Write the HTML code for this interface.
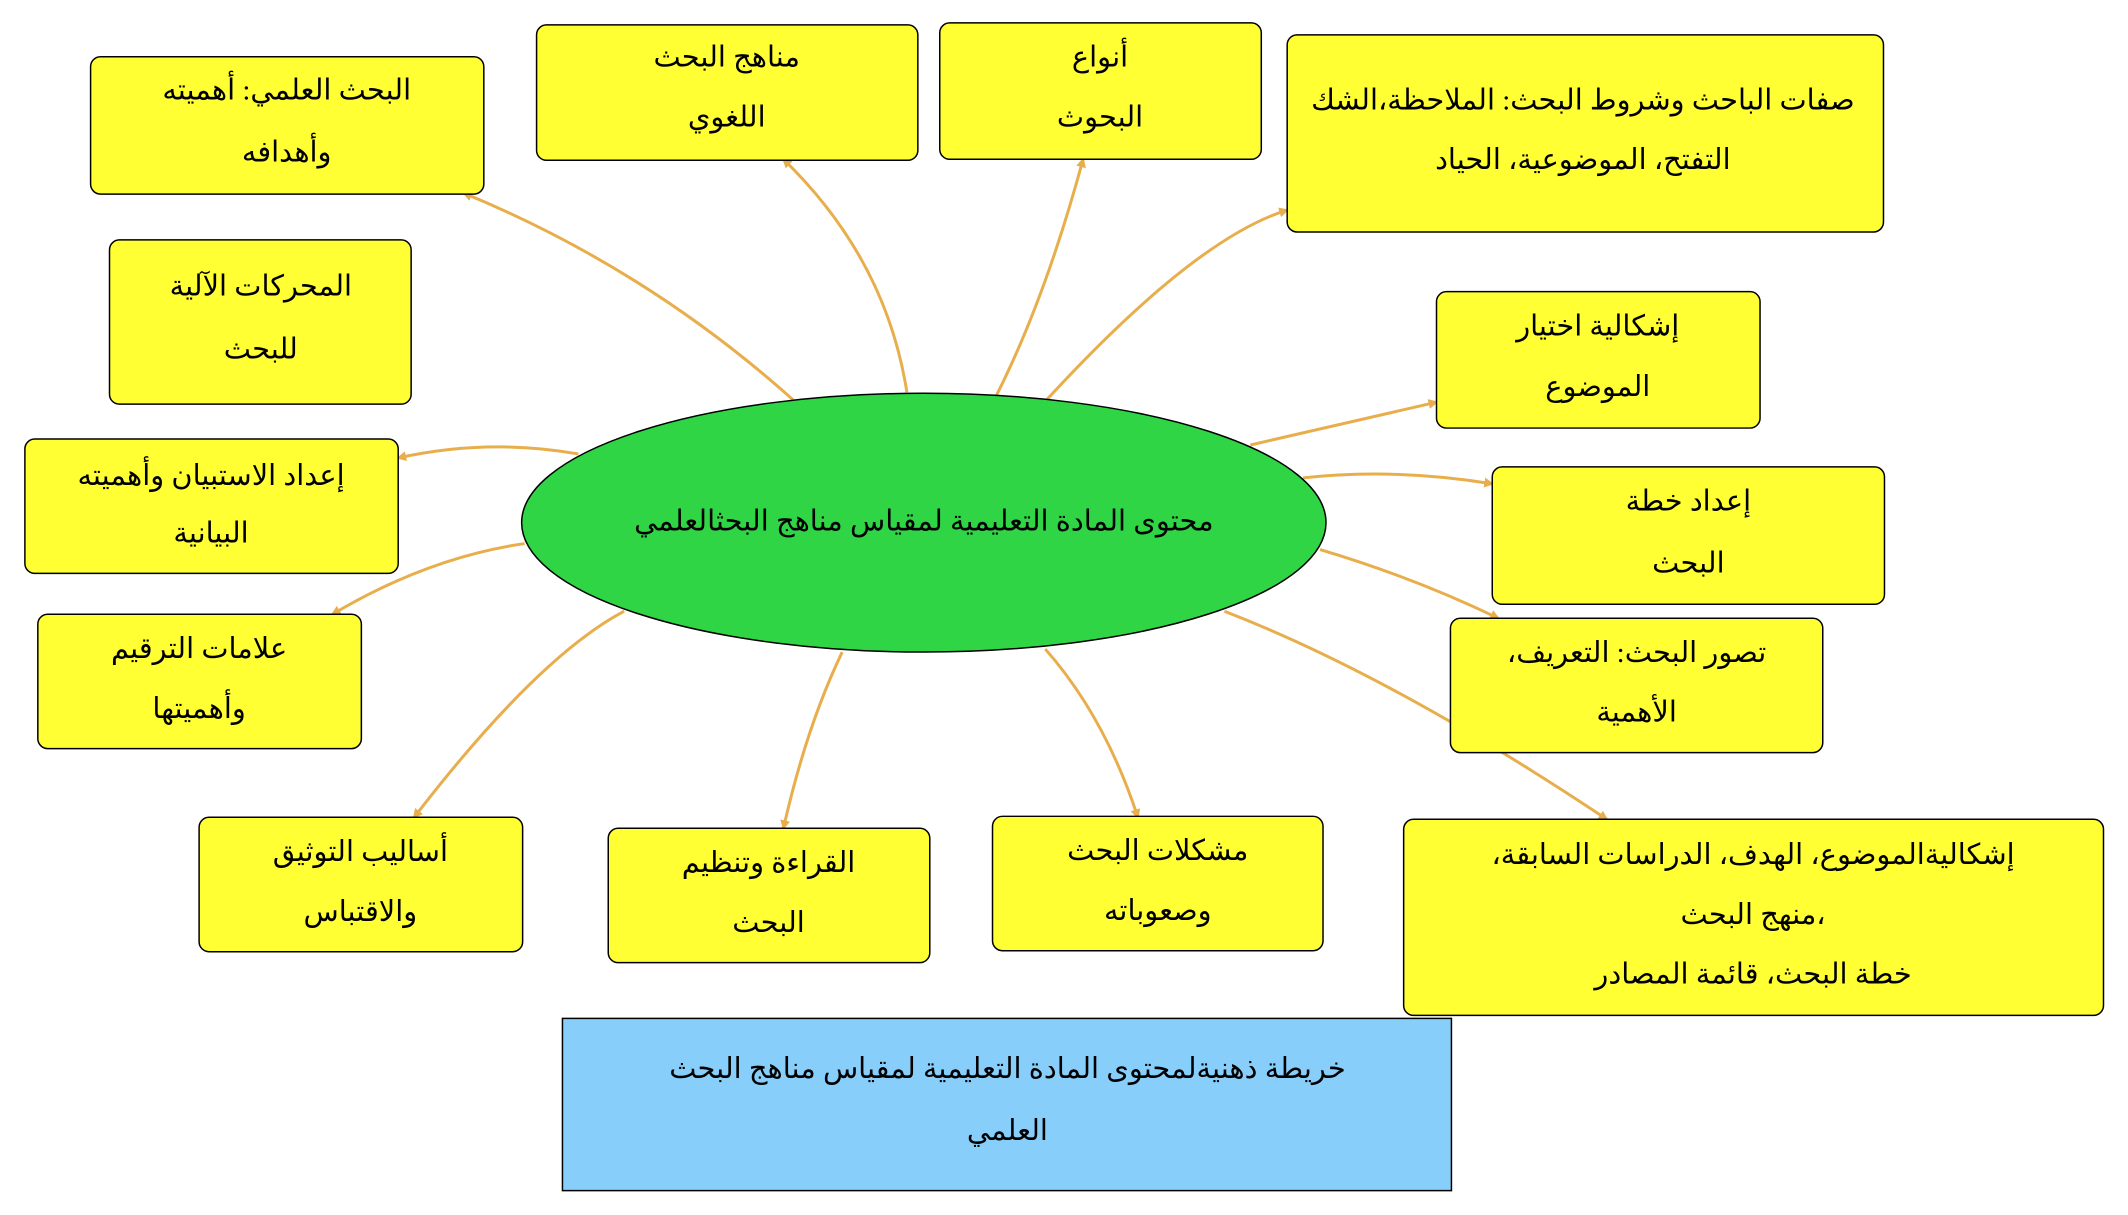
<!DOCTYPE html>
<html><head><meta charset="utf-8">
<style>
html,body{margin:0;padding:0;background:#fff;}
svg{display:block;}
text{font-family:"Liberation Serif","DejaVu Sans",serif;font-size:29px;fill:#000;direction:rtl;}
</style></head>
<body>
<svg width="2128" height="1215" viewBox="0 0 2128 1215" xmlns="http://www.w3.org/2000/svg">
<defs>
<marker id="a" markerWidth="10" markerHeight="10" refX="8" refY="5" orient="auto" markerUnits="userSpaceOnUse">
<path d="M0,0 L10,5 L0,10 z" fill="#e8ae4c"/>
</marker>
</defs>
<g transform="scale(0.9955)">
<g fill="none" stroke="#e8ae4c" stroke-width="3" marker-end="url(#a)">
<path d="M797,402 Q650,270 466,194"/>
<path d="M911,394 Q890,260 787,160"/>
<path d="M1001,397 Q1050,300 1088,160"/>
<path d="M1052,401 Q1200,240 1293,211"/>
<path d="M1256,447 L1443,404"/>
<path d="M1309,480 Q1400,470 1499,486"/>
<path d="M1326,552 Q1420,580 1505,621"/>
<path d="M1230,614 Q1400,680 1614,823"/>
<path d="M1050,652 Q1110,720 1143,821"/>
<path d="M846,655 Q810,730 787,832"/>
<path d="M627,614 Q540,660 416,821"/>
<path d="M527,546 Q430,560 334,617"/>
<path d="M581,456 Q490,440 400,460"/>
</g>
<ellipse cx="928" cy="525" rx="404" ry="130" fill="#2fd545" stroke="#000" stroke-width="1.5"/>
<text x="928" y="533" text-anchor="middle">محتوى المادة التعليمية لمقياس مناهج البحثالعلمي</text>
<g fill="#ffff33" stroke="#000" stroke-width="1.5">
<rect x="91" y="57" width="395" height="138" rx="10"/>
<rect x="539" y="25" width="383" height="136" rx="10"/>
<rect x="944" y="23" width="323" height="137" rx="10"/>
<rect x="1293" y="35" width="599" height="198" rx="10"/>
<rect x="110" y="241" width="303" height="165" rx="10"/>
<rect x="1443" y="293" width="325" height="137" rx="10"/>
<rect x="25" y="441" width="375" height="135" rx="10"/>
<rect x="1499" y="469" width="394" height="138" rx="10"/>
<rect x="38" y="617" width="325" height="135" rx="10"/>
<rect x="1457" y="621" width="374" height="135" rx="10"/>
<rect x="200" y="821" width="325" height="135" rx="10"/>
<rect x="611" y="832" width="323" height="135" rx="10"/>
<rect x="997" y="820" width="332" height="135" rx="10"/>
<rect x="1410" y="823" width="703" height="197" rx="10"/>
</g>
<rect x="565" y="1023" width="893" height="173" fill="#87cefa" stroke="#000" stroke-width="1.5"/>
<g text-anchor="middle">
<text x="288" y="100">البحث العلمي: أهميته</text><text x="288" y="162">وأهدافه</text>
<text x="730" y="67">مناهج البحث</text><text x="730" y="127">اللغوي</text>
<text x="1105" y="67">أنواع</text><text x="1105" y="127">البحوث</text>
<text x="1590" y="110">صفات الباحث وشروط البحث: الملاحظة،الشك</text><text x="1590" y="170">التفتح، الموضوعية، الحياد</text>
<text x="262" y="297">المحركات الآلية</text><text x="262" y="360">للبحث</text>
<text x="1605" y="337">إشكالية اختيار</text><text x="1605" y="398">الموضوع</text>
<text x="212" y="487">إعداد الاستبيان وأهميته</text><text x="212" y="545">البيانية</text>
<text x="1696" y="513">إعداد خطة</text><text x="1696" y="575">البحث</text>
<text x="200" y="661">علامات الترقيم</text><text x="200" y="721">وأهميتها</text>
<text x="1644" y="665">تصور البحث: التعريف،</text><text x="1644" y="725">الأهمية</text>
<text x="362" y="865">أساليب التوثيق</text><text x="362" y="925">والاقتباس</text>
<text x="772" y="876">القراءة وتنظيم</text><text x="772" y="936">البحث</text>
<text x="1163" y="864">مشكلات البحث</text><text x="1163" y="924">وصعوباته</text>
<text x="1761" y="868">إشكاليةالموضوع، الهدف، الدراسات السابقة،</text><text x="1761" y="928">،منهج البحث</text><text x="1761" y="988">خطة البحث، قائمة المصادر</text>
<text x="1012" y="1083">خريطة ذهنيةلمحتوى المادة التعليمية لمقياس مناهج البحث</text><text x="1012" y="1145">العلمي</text>
</g>
</g>
</svg>
</body></html>
